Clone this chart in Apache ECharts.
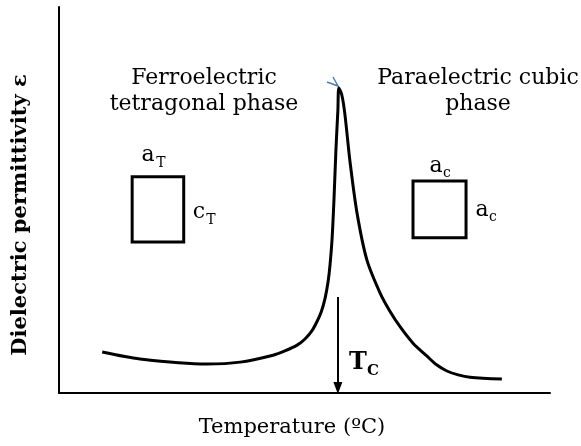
<!DOCTYPE html>
<html><head><meta charset="utf-8">
<script src="https://cdn.jsdelivr.net/npm/echarts@6/dist/echarts.min.js"></script>
<style>html,body{margin:0;padding:0;background:#fff}#c{width:581px;height:446px}</style>
</head><body><div id="c"></div>
<script>
// Temperature (arbitrary units, 0-100) and permittivity (arbitrary units, 0-100)
const temperature = [8.8, 16.5, 30.1, 36.9, 43.6, 46.0, 48.5, 50.1, 51.5, 52.5, 53.4, 54.2, 54.8, 55.2, 55.6, 56.0, 56.4, 56.8, 57.0, 57.6, 58.2, 59.3, 60.7, 62.7, 65.4, 67.4, 69.5, 72.1, 74.9, 76.9, 79.0, 81.3, 83.7, 90.2];
const permittivity = [10.6, 8.8, 7.5, 8.0, 9.8, 10.9, 12.4, 14.0, 16.1, 18.4, 21.0, 24.6, 28.8, 33.2, 39.6, 50.0, 63.0, 73.3, 79.0, 77.2, 72.5, 59.6, 46.6, 34.5, 25.9, 21.2, 17.1, 12.9, 9.6, 7.3, 5.7, 4.7, 4.1, 3.6];
const curieT = 56.8;
const arrowTop = 24.9, arrowBottom = 1.3;
const tetragonalCell = [[14.9, 56.0], [25.4, 39.1]];
const cubicCell = [[72.1, 54.9], [82.9, 40.2]];

const data = temperature.map((t, i) => [t, permittivity[i]]);
const font = 'DejaVu Serif';
const chart = echarts.init(document.getElementById('c'), null, {renderer: 'canvas'});
const txt = (text, size, x, y, extra) => ({type: 'text', style: Object.assign({text: text, font: size + 'px ' + font, fill: '#000', textAlign: 'center', textVerticalAlign: 'middle', x: x, y: y}, extra || {})});
chart.setOption({
  animation: false,
  grid: {left: 59, right: 31, top: 7, bottom: 53},
  xAxis: {type: 'value', min: 0, max: 100, axisLine: {lineStyle: {color: '#000', width: 2}}, axisTick: {show: false}, axisLabel: {show: false}, splitLine: {show: false}},
  yAxis: {type: 'value', min: 0, max: 100, axisLine: {show: true, lineStyle: {color: '#000', width: 2}}, axisTick: {show: false}, axisLabel: {show: false}, splitLine: {show: false}},
  series: [{
    type: 'line', data: data, smooth: 0.3, symbol: 'none',
    lineStyle: {color: '#000', width: 3},
    markLine: {
      silent: true, symbol: ['none', 'triangle'], symbolSize: [9, 12],
      lineStyle: {color: '#000', width: 2, type: 'solid'}, label: {show: false},
      data: [[{coord: [curieT, arrowTop]}, {coord: [curieT, arrowBottom]}]]
    },
    markArea: {
      silent: true,
      itemStyle: {color: 'rgba(0,0,0,0)', borderColor: '#000', borderWidth: 3},
      label: {show: false},
      data: [
        [{coord: tetragonalCell[0]}, {coord: tetragonalCell[1]}],
        [{coord: cubicCell[0]}, {coord: cubicCell[1]}]
      ]
    }
  }],
  graphic: [
    txt('Ferroelectric\ntetragonal phase', 22, 204, 91, {lineHeight: 26}),
    txt('Paraelectric cubic\nphase', 22, 478, 91, {lineHeight: 26}),
    txt('a', 22, 148, 155), txt('T', 14, 161, 163),
    txt('c', 22, 199, 212), txt('T', 14, 211, 220),
    txt('a', 22, 436, 166), txt('c', 14, 447, 173),
    txt('a', 22, 482, 210), txt('c', 14, 493, 217),
    txt('T', 24, 358, 363, {font: 'bold 24px ' + font}),
    txt('C', 15, 373, 371, {font: 'bold 15px ' + font}),
    txt('Temperature (ºC)', 21, 292, 428),
    {type: 'text', rotation: Math.PI / 2, x: 21, y: 215, style: {text: 'Dielectric permittivity ε', font: 'bold 21px ' + font, fill: '#000', textAlign: 'center', textVerticalAlign: 'middle', x: 0, y: 0}},
    {type: 'polyline', shape: {points: [[327, 82], [338, 86], [333, 77]]}, style: {stroke: '#4a7ebb', lineWidth: 1.5, fill: null}}
  ]
});
</script></body></html>
